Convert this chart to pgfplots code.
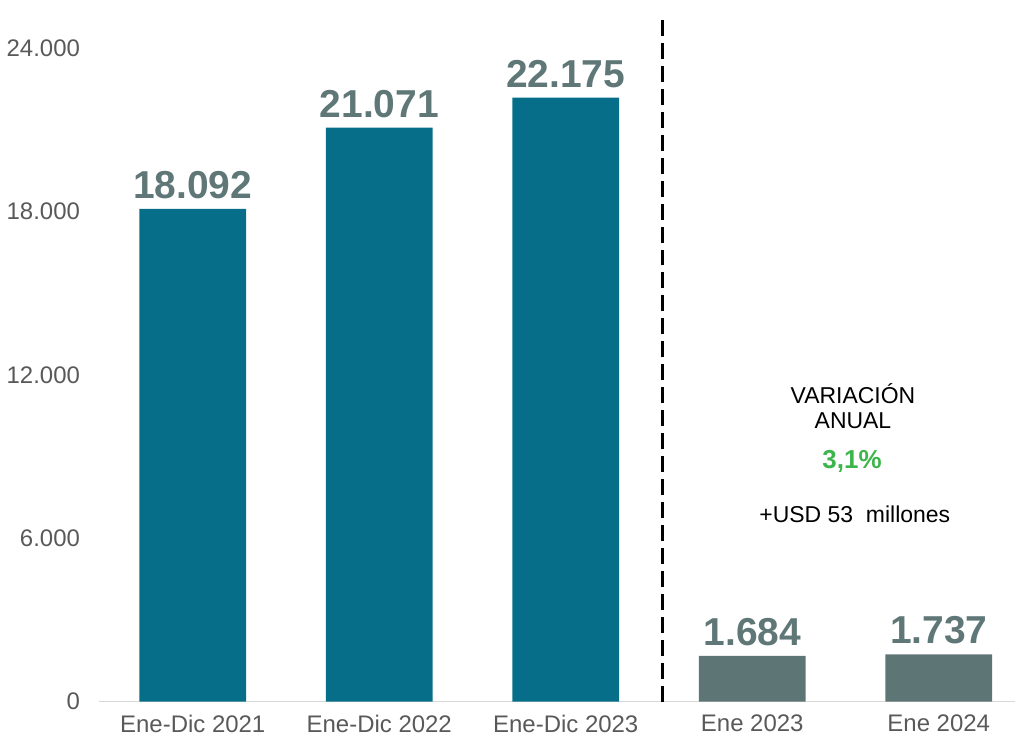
\documentclass[border=0pt]{standalone}
\usepackage{fontspec}
\setmainfont{Liberation Sans}
\usepackage{pgfplots}
\pgfplotsset{compat=1.18}
\definecolor{barteal}{HTML}{076E89}
\definecolor{bargray}{HTML}{5D7574}
\definecolor{valgray}{HTML}{5F7777}
\definecolor{tickgray}{HTML}{595959}
\definecolor{basegray}{HTML}{D9D9D9}
\definecolor{upgreen}{HTML}{3CB54A}
\begin{document}
\begin{tikzpicture}
\begin{axis}[
  scale only axis, width=459pt, height=327.5pt,
  xmin=-0.503, xmax=4.41, ymin=0, ymax=24000,
  clip=false,
  axis x line*=bottom, axis y line*=left,
  x axis line style={draw=basegray, line width=0.8pt},
  y axis line style={draw=none},
  major tick length=0pt,
  xtick={0,1,2,3,4},
  xticklabels={Ene-Dic 2021, Ene-Dic 2022, Ene-Dic 2023, Ene 2023, Ene 2024},
  ytick={0,6000,12000,18000,24000},
  scaled y ticks=false,
  /pgf/number format/.cd, fixed, 1000 sep={.}, assume math mode=true,
  /pgfplots/.cd,
  every tick label/.append style={font=\fontsize{12}{14}\selectfont, color=tickgray},
  yticklabel style={xshift=-6pt},
  xticklabel style={yshift=-3pt},
  ybar, bar width=53.5pt, bar shift=0pt,
  nodes near coords,
  every node near coord/.append style={font=\fontsize{19.5}{22}\bfseries, color=valgray, yshift=1.5pt},
]
\addplot[fill=barteal, draw=none] coordinates {(0,18092) (1,21071) (2,22175)};
\addplot[fill=bargray, draw=none] coordinates {(3,1684) (4,1737)};
\draw[black, line width=1.5pt, dash pattern=on 8pt off 3.5pt] (axis cs:2.519,0) -- (axis cs:2.519,25150);
\node[font=\fontsize{11.5}{13.5}\selectfont, align=center] at (axis cs:3.54,10850) {VARIACIÓN\\[-1pt]ANUAL};
\node[font=\fontsize{13}{15}\selectfont\bfseries, color=upgreen] at (axis cs:3.535,8831) {3,1\%};
\node[font=\fontsize{11.5}{13.5}\selectfont] at (axis cs:3.55,6889) {+USD 53\ \ millones};
\end{axis}
\path[use as bounding box] (-49pt,-19.5pt) rectangle (459pt,351.5pt);
\end{tikzpicture}
\end{document}
